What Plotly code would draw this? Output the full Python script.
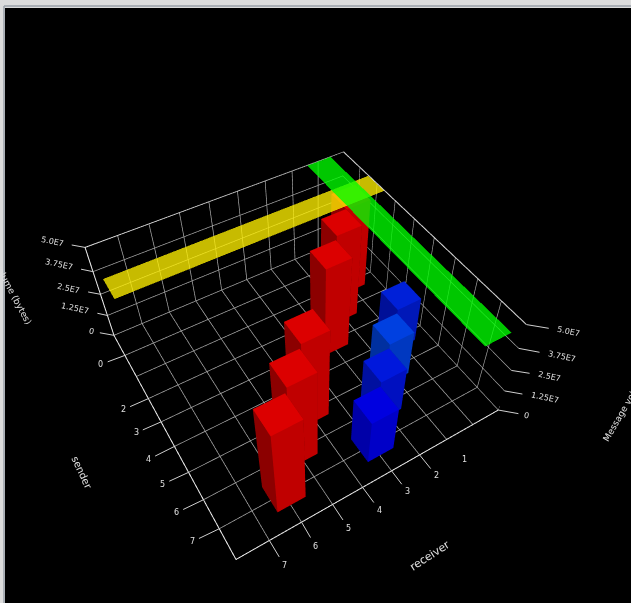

import plotly.graph_objects as go
W,H=631,603
vx,vy=5,8
q=[0.742,1.356,1.830,-0.099,-0.024,0.045,0.006,0.000,0.997,0.447]
R0,R1,S0,S1=-1.,8.,-1.,8.
ZMAX=5e7
red_senders=[7,6,5,3,2,1]; red_receivers=[6,5,4,2,1,0]; red_volumes=[4.85e7,4.9e7,4.92e7,4.92e7,4.97e7,4.8e7]
blue_senders=[7,6,5,4]; blue_receivers=[3,2,1,0]; blue_volumes=[2.5e7]*4
red_top=['#dc0000']*6; red_right=['#c00000']*6; red_left=['#8c0000']*6
blue_top=['#0000e0','#0018dc','#0040e0','#0020d8']; blue_right=['#0000c8','#0010c0','#0038c0','#0018b8']; blue_left=['#0000a8','#0010a0','#0030a0','#001098']
yellow_sender=1; green_receiver=0; band_volume=4.99e7
z_ticks=[0,1.25e7,2.5e7,3.75e7,5e7]; z_labels=['0','1.25E7','2.5E7','3.75E7','5.0E7']
ticks=list(range(8)); sender_labels=['0','','2','3','4','5','6','7']; receiver_labels=['','1','2','3','4','5','6','7']
OFFR,OFFS,HW=-.03,-.04,.45
def box(c_r,c_s,zt):
    r0,r1=c_r+OFFR-HW,c_r+OFFR+HW; s0,s1=c_s+OFFS-HW,c_s+OFFS+HW
    x=[r0,r1,r1,r0,r0,r1,r1,r0]; y=[s0,s0,s1,s1,s0,s0,s1,s1]; z=[0,0,0,0,zt,zt,zt,zt]
    i=[4,4, 2,2, 1,1, 0,0, 3,3, 0,0]; j=[5,6, 3,6, 2,6, 1,5, 0,4, 1,2]; k=[6,7, 7,7, 6,5, 5,4, 4,7, 2,3]
    return x,y,z,i,j,k
LIT=dict(ambient=1,diffuse=0,specular=0,fresnel=0,roughness=1)
tr=[]
def add_bar(r,s,v,top,right,left):
    x,y,z,i,j,k=box(r,s,v)
    fc=[top,top,right,right,left,left,left,left,left,left,left,left]
    tr.append(go.Mesh3d(x=x,y=y,z=z,i=i,j=j,k=k,facecolor=fc,flatshading=True,hoverinfo='skip',lighting=LIT))
for d in zip(red_receivers,red_senders,red_volumes,red_top,red_right,red_left): add_bar(*d)
for d in zip(blue_receivers,blue_senders,blue_volumes,blue_top,blue_right,blue_left): add_bar(*d)
def band(xs,ys,zv,col):
    tr.append(go.Mesh3d(x=xs,y=ys,z=[zv]*4,i=[0,0],j=[1,2],k=[2,3],color=col,opacity=.78,flatshading=True,hoverinfo='skip',lighting=LIT))
a0,a1=yellow_sender+OFFS-HW,yellow_sender+OFFS+HW
band([R0,R1,R1,R0],[a0,a0,a1,a1],band_volume,'#fff000')
a0,a1=green_receiver+OFFR-HW,green_receiver+OFFR+HW
band([a0,a1,a1,a0],[S0,S0,S1,S1],band_volume,'#00ff00')
ex=[R0,R0,None,R1,R0,R0]
ey=[S1,S1,None,S0,S0,S1]
ez=[0,ZMAX,None,ZMAX,ZMAX,ZMAX]
tr.append(go.Scatter3d(x=ex,y=ey,z=ez,mode='lines',line=dict(color='#e8e8e8',width=2),hoverinfo='skip'))
fig=go.Figure(tr)
ax=dict(showbackground=False,gridcolor='#a8a8a8',gridwidth=1.5,title='',showspikes=False,zeroline=False,showline=True,linecolor='#f0f0f0',linewidth=2,
  ticks='',showticklabels=False)
tf=dict(size=8,family='DejaVu Sans',color='#e0e0e0')
def tick(x,y,z,t,dx,dy,angle=0,gap=5):
    return dict(x=x,y=y,z=z,text=t,showarrow=True,arrowhead=0,arrowwidth=1,arrowcolor='#cfcfcf',ax=dx,ay=dy,font=tf,textangle=angle,startstandoff=gap)
ann=[]
for v,t,(dx,dy) in zip(z_ticks,z_labels,[(28,5),(40,7),(38,6),(43,8),(42,7)]):
    ann.append(tick(R0,S1,v,t,dx,dy,12,4 if t=='0' else 7))
for v,t,(dx,dy) in zip(z_ticks,z_labels,[(-22,-4),(-32,-7),(-32,-6),(-34,-7),(-33,-6)]):
    ann.append(tick(R1,S0,v,t,dx,dy,12,4 if t=='0' else 7))
for s,t,(dx,dy) in zip(ticks,sender_labels,[(-24,9),(-24,10),(-25,11),(-25,11),(-26,13),(-26,12),(-27,13),(-27,13)]):
    if t: ann.append(tick(R1,s,0,t,dx,dy,0,3))
for r,t,(dx,dy) in zip(ticks,receiver_labels,[(0,0),(18,20),(17,21),(16,21),(17,23),(16,24),(14,24),(15,25)]):
    if t: ann.append(tick(r,S1,0,t,dx,dy,0,3))
fig.update_layout(width=W,height=H,margin=dict(l=0,r=0,t=0,b=0),paper_bgcolor='#dcdcdc',showlegend=False,
 scene=dict(domain=dict(x=[vx/W,1],y=[0,1-vy/H]),bgcolor='black',
  xaxis=dict(ax,range=[R0,R1],tickvals=ticks),
  yaxis=dict(ax,range=[S0,S1],tickvals=ticks),
  zaxis=dict(ax,range=[0,ZMAX],tickvals=z_ticks),
  annotations=ann,
  aspectmode='manual',aspectratio=dict(x=1,y=q[8],z=q[9]),
  camera=dict(eye=dict(x=q[0],y=q[1],z=q[2]),center=dict(x=q[3],y=q[4],z=q[5]),up=dict(x=q[6],y=q[7],z=1))),
 shapes=[dict(type='line',xref='paper',yref='paper',x0=4/W,x1=4/W,y0=0,y1=1-6/H,line=dict(color='#9aa0a8',width=1.5)),
         dict(type='line',xref='paper',yref='paper',x0=4/W,x1=1,y0=1-6/H,y1=1-6/H,line=dict(color='#9aa0a8',width=1.5))])
def label(t,px,py,ang,size):
    fig.add_annotation(xref='paper',yref='paper',x=px/W,y=1-py/H,xanchor='center',yanchor='middle',text=t,textangle=ang,showarrow=False,font=dict(family='DejaVu Sans',size=size,color='#e0e0e0'))
label('sender',82,472,65,10)
label('receiver',430,555,-33,11)
label('Message volume (bytes)',633,393,-60,9)
label('Message volume (bytes)',3,275,62,9)
fig.write_html('out.html',config=dict(displayModeBar=False),post_script="document.body.style.margin='0';document.body.style.overflow='hidden';")
